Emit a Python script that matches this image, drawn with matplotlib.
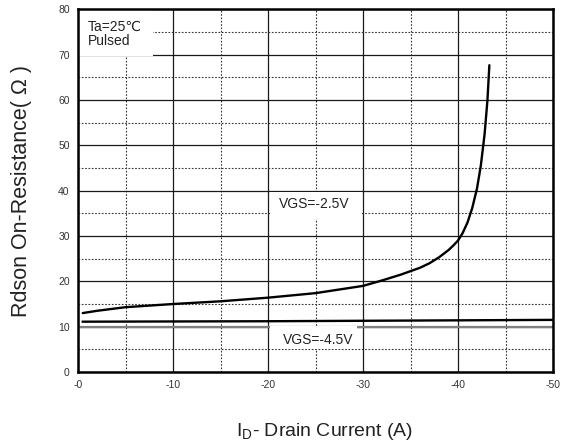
import numpy as np
import matplotlib.pyplot as plt
from matplotlib.ticker import MultipleLocator
from matplotlib.patches import Rectangle

plt.rcParams['font.family'] = ['Liberation Sans', 'DejaVu Sans']

# VGS = -2.5V curve
id_25 = [-0.5, -2, -5, -10, -15, -20, -25, -30, -32, -34, -36, -37, -38, -39, -39.5, -40, -40.5,
         -41.0, -41.5, -42.0, -42.4, -42.8, -43.1, -43.3]
r_25 = [13.0, 13.5, 14.3, 15.0, 15.6, 16.4, 17.4, 19.0, 20.2, 21.5, 23.0, 24.0, 25.3, 26.9, 27.9, 29.0, 30.7,
        33.0, 36.2, 40.5, 45.5, 52.5, 60.0, 67.7]

# VGS = -4.5V curve
id_45 = [-0.5, -10, -20, -30, -40, -50]
r_45 = [11.1, 11.15, 11.2, 11.3, 11.4, 11.5]

xticks = [0, -10, -20, -30, -40, -50]
xticklabels = ['-0', '-10', '-20', '-30', '-40', '-50']
yticks = [0, 10, 20, 30, 40, 50, 60, 70, 80]

fig = plt.figure(figsize=(5.64, 4.43), dpi=100)
ax = fig.add_axes([0.1383, 0.1603, 0.8422, 0.8183])

ax.set_xlim(0, -50)
ax.set_ylim(0, 80)

# grid: solid at major, dotted at minor
ax.xaxis.set_minor_locator(MultipleLocator(5))
ax.yaxis.set_minor_locator(MultipleLocator(5))
ax.grid(which='major', color='#1a1a1a', linestyle='-', linewidth=0.9)
ax.grid(which='minor', color='#333333', linestyle=(0, (1.5, 1.5)), linewidth=0.8)
ax.set_axisbelow(True)
# the 10 ohm line is drawn grey and heavier
ax.axhline(10, color='#808080', linewidth=1.6, zorder=0.6)

# white patches behind the labels
ax.add_patch(Rectangle((0, 69.8), -7.9, 10.2, facecolor='white', edgecolor='none', zorder=1))
ax.add_patch(Rectangle((-20.2, 33.8), -9.7, 6.0, facecolor='white', edgecolor='none', zorder=1))
ax.add_patch(Rectangle((-20.2, 5.1), -9.2, 5.1, facecolor='white', edgecolor='none', zorder=1))

ax.plot(id_25, r_25, color='black', linewidth=1.7, zorder=3, solid_capstyle='round')
ax.plot(id_45, r_45, color='black', linewidth=1.7, zorder=3)

ax.set_xticks(xticks)
ax.set_xticklabels(xticklabels)
ax.set_yticks(yticks)
ax.tick_params(which='both', length=0, labelsize=7.5, colors='#333333', pad=6)

for s in ax.spines.values():
    s.set_linewidth(1.8)
    s.set_color('black')

ax.text(-1.0, 77.8, 'Ta=25\u2103\nPulsed', fontsize=10, color='#222222', va='top', ha='left',
        linespacing=1.05, zorder=4)
ax.text(-24.9, 37.0, 'VGS=-2.5V', fontsize=10, color='#222222', va='center', ha='center', zorder=4)
ax.text(-25.3, 7.1, 'VGS=-4.5V', fontsize=10, color='#222222', va='center', ha='center', zorder=4)

ax.set_ylabel('Rdson On-Resistance( \u03a9 )', fontsize=15.5, color='#222222', labelpad=19)
ax.set_xlabel('I$_\\mathregular{D}$- Drain Current (A)', fontsize=14, color='#222222')
ax.xaxis.set_label_coords(0.519, -0.135)

fig.savefig('out.png', dpi=100, facecolor='white')
